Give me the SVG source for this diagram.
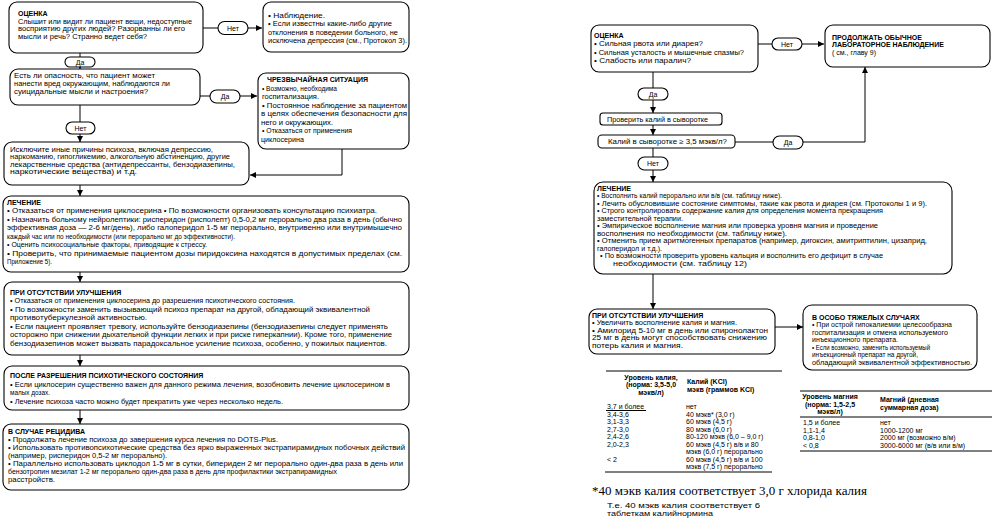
<svg xmlns="http://www.w3.org/2000/svg" width="997" height="520" viewBox="0 0 997 520">
<defs>
<marker id="ah" markerUnits="userSpaceOnUse" markerWidth="6" markerHeight="6" refX="6" refY="3" orient="auto"><path d="M0,0 L6,3 L0,6 z" fill="#000"/></marker>
<style>
.bx{fill:#fff;stroke:#000;stroke-width:1.1}
.pl{fill:#fff;stroke:#000;stroke-width:1.1}
.ln{fill:none;stroke:#000;stroke-width:1}
text{font-family:"Liberation Sans",Arial,sans-serif;font-size:7px;fill:#000}
.b{font-weight:bold}
.c{text-anchor:middle}
.fn{font-family:"Liberation Serif","Times New Roman",serif;font-size:11.5px}
.tl{stroke:#000;stroke-width:1}
</style>
</defs>
<rect width="997" height="520" fill="#fff"/>

<g id="connectors">
<line class="ln" x1="203" y1="28" x2="218" y2="28"/>
<line class="ln" x1="248" y1="28" x2="262" y2="28" marker-end="url(#ah)"/>
<line class="ln" x1="80" y1="53" x2="80" y2="57"/>
<line class="ln" x1="80" y1="67" x2="80" y2="69" marker-end="url(#ah)"/>
<line class="ln" x1="200" y1="96" x2="210" y2="96"/>
<line class="ln" x1="240" y1="96" x2="257" y2="96" marker-end="url(#ah)"/>
<line class="ln" x1="80" y1="105" x2="80" y2="122"/>
<line class="ln" x1="80" y1="134" x2="80" y2="142" marker-end="url(#ah)"/>
<polyline class="ln" points="342,149 342,175 250,175" marker-end="url(#ah)"/>
<line class="ln" x1="80" y1="185" x2="80" y2="196" marker-end="url(#ah)"/>
<line class="ln" x1="80" y1="272" x2="80" y2="282" marker-end="url(#ah)"/>
<line class="ln" x1="80" y1="355" x2="80" y2="366" marker-end="url(#ah)"/>
<line class="ln" x1="80" y1="410" x2="80" y2="424" marker-end="url(#ah)"/>

<line class="ln" x1="758" y1="44" x2="772" y2="44"/>
<line class="ln" x1="802" y1="44" x2="824" y2="44" marker-end="url(#ah)"/>
<line class="ln" x1="653" y1="72" x2="653" y2="88"/>
<line class="ln" x1="653" y1="100" x2="653" y2="113" marker-end="url(#ah)"/>
<line class="ln" x1="653" y1="125" x2="653" y2="135" marker-end="url(#ah)"/>
<line class="ln" x1="735" y1="142" x2="773" y2="142"/>
<polyline class="ln" points="803,142 865,142 865,67" marker-end="url(#ah)"/>
<line class="ln" x1="653" y1="148" x2="653" y2="157"/>
<line class="ln" x1="653" y1="170" x2="653" y2="182" marker-end="url(#ah)"/>
<line class="ln" x1="653" y1="274" x2="653" y2="309" marker-end="url(#ah)"/>
<line class="ln" x1="775" y1="327" x2="803" y2="327" marker-end="url(#ah)"/>
</g>

<g id="n-assess1">
<rect class="bx" x="9" y="2" width="194" height="51" rx="8"/>
<text class="b" x="18" y="15.5">ОЦЕНКА</text>
<text x="18" y="23.5" textLength="174" lengthAdjust="spacingAndGlyphs">Слышит или видит ли пациент вещи, недоступные</text>
<text x="18" y="31" textLength="167" lengthAdjust="spacingAndGlyphs">восприятию других людей? Разорванны ли его</text>
<text x="18" y="38.5" textLength="129" lengthAdjust="spacingAndGlyphs">мысли и речь? Странно ведет себя?</text>
</g>
<g id="p-net1"><rect class="pl" x="218" y="21.5" width="30" height="13" rx="6.5"/><text class="c" x="233" y="30.5">Нет</text></g>
<g id="n-observe">
<rect class="bx" x="263" y="2" width="146" height="50" rx="8"/>
<text x="268" y="17.5" textLength="57" lengthAdjust="spacingAndGlyphs">• Наблюдение.</text>
<text x="268" y="25.5" textLength="124" lengthAdjust="spacingAndGlyphs">• Если известны какие-либо другие</text>
<text x="268" y="34.5" textLength="130" lengthAdjust="spacingAndGlyphs">отклонения в поведении больного, не</text>
<text x="268" y="42.5" textLength="139" lengthAdjust="spacingAndGlyphs">исключена депрессия (см., Протокол 3).</text>
</g>
<g id="p-da1"><rect class="pl" x="65" y="57" width="30" height="10" rx="5"/><text class="c" x="80" y="64.5">Да</text></g>
<g id="n-danger">
<rect class="bx" x="10" y="69" width="190" height="36" rx="8"/>
<text x="14" y="77.5" textLength="141" lengthAdjust="spacingAndGlyphs">Есть ли опасность, что пациент может</text>
<text x="14" y="85.5" textLength="156" lengthAdjust="spacingAndGlyphs">нанести вред окружающим, наблюдаются ли</text>
<text x="14" y="93.5" textLength="134" lengthAdjust="spacingAndGlyphs">суицидальные мысли и настроения?</text>
</g>
<g id="p-da2"><rect class="pl" x="210" y="90" width="30" height="13" rx="6.5"/><text class="c" x="225" y="99">Да</text></g>
<g id="n-emergency">
<rect class="bx" x="258" y="73" width="151" height="76" rx="8"/>
<text class="b" x="267" y="81.5">ЧРЕЗВЫЧАЙНАЯ СИТУАЦИЯ</text>
<text x="262" y="90.5" textLength="75" lengthAdjust="spacingAndGlyphs">• Возможно, необходима</text>
<text x="262" y="99" textLength="57" lengthAdjust="spacingAndGlyphs">госпитализация.</text>
<text x="262" y="107.5" textLength="145" lengthAdjust="spacingAndGlyphs">• Постоянное наблюдение за пациентом</text>
<text x="261" y="116" textLength="146" lengthAdjust="spacingAndGlyphs">в целях обеспечения безопасности для</text>
<text x="261" y="124.5" textLength="72" lengthAdjust="spacingAndGlyphs">него и окружающих.</text>
<text x="262" y="133" textLength="90" lengthAdjust="spacingAndGlyphs">• Отказаться от применения</text>
<text x="261" y="141.5" textLength="43" lengthAdjust="spacingAndGlyphs">циклосерина</text>
</g>
<g id="p-net2"><rect class="pl" x="66" y="122" width="29" height="12" rx="6"/><text class="c" x="80.5" y="130.5">Нет</text></g>
<g id="n-exclude">
<rect class="bx" x="4" y="142" width="245" height="43" rx="8"/>
<text x="10" y="151.5" textLength="203" lengthAdjust="spacingAndGlyphs">Исключите иные причины психоза, включая депрессию,</text>
<text x="10" y="159" textLength="220" lengthAdjust="spacingAndGlyphs">наркоманию, гипогликемию, алкогольную абстиненцию, другие</text>
<text x="10" y="166.5" textLength="225" lengthAdjust="spacingAndGlyphs">лекарственные средства (антидепрессанты, бензодиазепины,</text>
<text x="10" y="174" textLength="127" lengthAdjust="spacingAndGlyphs">наркотические вещества) и т.д.</text>
</g>
<g id="n-treat1">
<rect class="bx" x="3" y="196" width="406" height="76" rx="8"/>
<text class="b" x="7" y="204.5">ЛЕЧЕНИЕ</text>
<text x="7" y="213" textLength="370" lengthAdjust="spacingAndGlyphs">• Отказаться от применения циклосерина • По возможности организовать консультацию психиатра.</text>
<text x="7" y="221.5" textLength="395" lengthAdjust="spacingAndGlyphs">• Назначить больному нейролептики: рисперидон (рисполепт) 0,5-0,2 мг перорально два раза в день (обычно</text>
<text x="7" y="230" textLength="395" lengthAdjust="spacingAndGlyphs">эффективная доза — 2-6 мг/день), либо галоперидол 1-5 мг перорально, внутривенно или внутримышечно</text>
<text x="7" y="238.5" textLength="228" lengthAdjust="spacingAndGlyphs">каждый час или по необходимости (или перорально мг до эффективности).</text>
<text x="7" y="247" textLength="200" lengthAdjust="spacingAndGlyphs">• Оценить психосоциальные факторы, приводящие к стрессу.</text>
<text x="7" y="255.5" textLength="395" lengthAdjust="spacingAndGlyphs">• Проверить, что принимаемые пациентом дозы пиридоксина находятся в допустимых пределах (см.</text>
<text x="7" y="264" textLength="45" lengthAdjust="spacingAndGlyphs">Приложение 5).</text>
</g>
<g id="n-noimprove1">
<rect class="bx" x="4" y="282" width="405" height="73" rx="8"/>
<text class="b" x="10" y="294.5">ПРИ ОТСУТСТВИИ УЛУЧШЕНИЯ</text>
<text x="10" y="303" textLength="285" lengthAdjust="spacingAndGlyphs">• Отказаться от применения циклосерина до разрешения психотического состояния.</text>
<text x="10" y="311.5" textLength="360" lengthAdjust="spacingAndGlyphs">• По возможности заменить вызывающий психоз препарат на другой, обладающий эквивалентной</text>
<text x="10" y="320" textLength="137" lengthAdjust="spacingAndGlyphs">противотуберкулезной активностью.</text>
<text x="10" y="328.5" textLength="378" lengthAdjust="spacingAndGlyphs">• Если пациент проявляет тревогу, используйте бензодиазепины (бензодиазепины следует применять</text>
<text x="10" y="337" textLength="382" lengthAdjust="spacingAndGlyphs">осторожно при снижении дыхательной функции легких и при риске гиперкапнии). Кроме того, применение</text>
<text x="10" y="345.5" textLength="377" lengthAdjust="spacingAndGlyphs">бензодиазепинов может вызвать парадоксальное усиление психоза, особенно, у пожилых пациентов.</text>
</g>
<g id="n-after">
<rect class="bx" x="4" y="366" width="405" height="44" rx="8"/>
<text class="b" x="10" y="377.5">ПОСЛЕ РАЗРЕШЕНИЯ ПСИХОТИЧЕСКОГО СОСТОЯНИЯ</text>
<text x="10" y="386.5" textLength="380" lengthAdjust="spacingAndGlyphs">• Если циклосерин существенно важен для данного режима лечения, возобновить лечение циклосерином в</text>
<text x="10" y="395" textLength="40" lengthAdjust="spacingAndGlyphs">малых дозах.</text>
<text x="10" y="403.5" textLength="273" lengthAdjust="spacingAndGlyphs">• Лечение психоза часто можно будет прекратить уже через несколько недель.</text>
</g>
<g id="n-relapse">
<rect class="bx" x="3" y="424" width="406" height="66" rx="8"/>
<text class="b" x="8" y="433.5">В СЛУЧАЕ РЕЦИДИВА</text>
<text x="8" y="441.5" textLength="270" lengthAdjust="spacingAndGlyphs">• Продолжать лечение психоза до завершения курса лечения по DOTS-Plus.</text>
<text x="8" y="449.5" textLength="397" lengthAdjust="spacingAndGlyphs">• Использовать противопсихотические средства без ярко выраженных экстрапирамидных побочных действий</text>
<text x="8" y="457.5" textLength="159" lengthAdjust="spacingAndGlyphs">(например, рисперидон 0,5-2 мг перорально).</text>
<text x="8" y="465.5" textLength="395" lengthAdjust="spacingAndGlyphs">• Параллельно использовать циклодол 1-5 мг в сутки, бипериден 2 мг перорально один-два раза в день или</text>
<text x="8" y="473.5" textLength="329" lengthAdjust="spacingAndGlyphs">бензотропин мезилат 1-2 мг перорально один-два раза в день для профилактики экстрапирамидных</text>
<text x="8" y="481.5" textLength="47" lengthAdjust="spacingAndGlyphs">расстройств.</text>
</g>

<g id="n-assess2">
<rect class="bx" x="591" y="25" width="167" height="47" rx="8"/>
<text class="b" x="594" y="37.5">ОЦЕНКА</text>
<text x="594" y="46" textLength="109" lengthAdjust="spacingAndGlyphs">• Сильная рвота или диарея?</text>
<text x="594" y="54.5" textLength="150" lengthAdjust="spacingAndGlyphs">• Сильная усталость и мышечные спазмы?</text>
<text x="594" y="63" textLength="97" lengthAdjust="spacingAndGlyphs">• Слабость или паралич?</text>
</g>
<g id="p-net3"><rect class="pl" x="772" y="38" width="30" height="12" rx="6"/><text class="c" x="787" y="46.5">Нет</text></g>
<g id="n-continue">
<rect class="bx" x="825" y="25" width="165" height="42" rx="8"/>
<text class="b" x="832" y="39.5">ПРОДОЛЖАТЬ ОБЫЧНОЕ</text>
<text class="b" x="832" y="47">ЛАБОРАТОРНОЕ НАБЛЮДЕНИЕ</text>
<text x="832" y="54.5">( см., главу 9)</text>
</g>
<g id="p-da3"><rect class="pl" x="638" y="88" width="30" height="12" rx="6"/><text class="c" x="653" y="96.5">Да</text></g>
<g id="n-check">
<rect class="bx" x="600" y="113" width="122" height="12" rx="3"/>
<text x="607" y="121.5" textLength="101" lengthAdjust="spacingAndGlyphs">Проверить калий в сыворотке</text>
</g>
<g id="n-k35">
<rect class="bx" x="598" y="135" width="137" height="13" rx="4"/>
<text x="608" y="144" textLength="119" lengthAdjust="spacingAndGlyphs">Калий в сыворотке ≥ 3,5 мэкв/л?</text>
</g>
<g id="p-da4"><rect class="pl" x="773" y="136" width="30" height="13" rx="6.5"/><text class="c" x="788" y="145">Да</text></g>
<g id="p-net4"><rect class="pl" x="638" y="157" width="30" height="13" rx="6.5"/><text class="c" x="653" y="166">Нет</text></g>
<g id="n-treat2">
<rect class="bx" x="594" y="182" width="358" height="92" rx="9"/>
<text class="b" x="597" y="190.5">ЛЕЧЕНИЕ</text>
<text x="597" y="198" textLength="185" lengthAdjust="spacingAndGlyphs">• Восполнить калий перорально или в/в (см. таблицу ниже).</text>
<text x="597" y="205.5" textLength="330" lengthAdjust="spacingAndGlyphs">• Лечить обусловившие состояние симптомы, такие как рвота и диарея (см. Протоколы 1 и 9).</text>
<text x="597" y="213" textLength="286" lengthAdjust="spacingAndGlyphs">• Строго контролировать содержание калия для определения момента прекращения</text>
<text x="597" y="220.5" textLength="86" lengthAdjust="spacingAndGlyphs">заместительной терапии.</text>
<text x="597" y="228" textLength="281" lengthAdjust="spacingAndGlyphs">• Эмпирическое восполнение магния или проверка уровня магния и проведение</text>
<text x="597" y="235.5" textLength="190" lengthAdjust="spacingAndGlyphs">восполнения по необходимости (см. таблицу ниже).</text>
<text x="597" y="243" textLength="330" lengthAdjust="spacingAndGlyphs">• Отменить прием аритмогенных препаратов (например, дигоксин, амитриптилин, цизаприд,</text>
<text x="597" y="250.5" textLength="65" lengthAdjust="spacingAndGlyphs">галоперидол и т.д.).</text>
<text x="600" y="258" textLength="283" lengthAdjust="spacingAndGlyphs">• По возможности проверить уровень кальция и восполнить его дефицит в случае</text>
<text x="613" y="265.5" textLength="134" lengthAdjust="spacingAndGlyphs">необходимости (см. таблицу 12)</text>
</g>
<g id="n-noimprove2">
<rect class="bx" x="589" y="309" width="186" height="45" rx="8"/>
<text class="b" x="592" y="317.5">ПРИ ОТСУТСТВИИ УЛУЧШЕНИЯ</text>
<text x="592" y="325" textLength="145" lengthAdjust="spacingAndGlyphs">• Увеличить восполнение калия и магния.</text>
<text x="592" y="332.5" textLength="176" lengthAdjust="spacingAndGlyphs">• Амилорид 5-10 мг в день или спиронолактон</text>
<text x="592" y="340" textLength="175" lengthAdjust="spacingAndGlyphs">25 мг в день могут способствовать снижению</text>
<text x="592" y="347.5" textLength="91" lengthAdjust="spacingAndGlyphs">потерь калия и магния.</text>
</g>
<g id="n-severe">
<rect class="bx" x="803" y="305" width="174" height="65" rx="9"/>
<text class="b" x="812" y="319.5">В ОСОБО ТЯЖЕЛЫХ СЛУЧАЯХ</text>
<text x="812" y="327" textLength="140" lengthAdjust="spacingAndGlyphs">• При острой гипокалиемии целесообразна</text>
<text x="812" y="334.5" textLength="136" lengthAdjust="spacingAndGlyphs">госпитализация и отмена используемого</text>
<text x="812" y="342" textLength="86" lengthAdjust="spacingAndGlyphs">инъекционного препарата.</text>
<text x="812" y="349.5" textLength="118" lengthAdjust="spacingAndGlyphs">• Если возможно, заменить используемый</text>
<text x="812" y="357" textLength="106" lengthAdjust="spacingAndGlyphs">инъекционный препарат на другой,</text>
<text x="812" y="364.5" textLength="160" lengthAdjust="spacingAndGlyphs">обладающий эквивалентной эффективностью.</text>
</g>

<g id="table-k">
<line class="tl" x1="606" y1="371" x2="782" y2="371"/>
<text class="b c" x="651" y="379.5">Уровень калия,</text>
<text class="b c" x="651" y="387">(норма: 3,5-5,0</text>
<text class="b c" x="651" y="394.5">мэкв/л)</text>
<text class="b" x="687" y="383.5">Калий  (KCl)</text>
<text class="b" x="687" y="391.5">мэкв (граммов KCl)</text>
<line class="tl" x1="606" y1="410.5" x2="646" y2="410.5"/>
<text x="607" y="409">3,7 и более</text><text x="686" y="409">нет</text>
<text x="607" y="416.5">3,4-3,6</text><text x="686" y="416.5">40 мэкв* (3,0 г)</text>
<text x="607" y="424">3,1-3,3</text><text x="686" y="424">60 мэкв  (4,5 г)</text>
<text x="607" y="431.5">2,7-3,0</text><text x="686" y="431.5">80 мэкв  (6,0 г)</text>
<text x="607" y="439">2,4-2,6</text><text x="686" y="439">80-120 мэкв (6,0 – 9,0 г)</text>
<text x="607" y="446.5">2,0-2,3</text><text x="686" y="446.5">60 мэкв  (4,5 г) в/в и 80</text>
<text x="686" y="454">мэкв (6,0 г) перорально</text>
<text x="607" y="461.5">&lt; 2</text><text x="686" y="461.5">60 мэкв  (4,5 г) в/в и 100</text>
<text x="686" y="469">мэкв (7,5 г) перорально</text>
<line class="tl" x1="605" y1="472" x2="772" y2="472"/>
</g>

<g id="table-mg">
<line class="tl" x1="800" y1="391" x2="992" y2="391"/>
<text class="b c" x="830" y="399">Уровень магния</text>
<text class="b c" x="830" y="406.5">(норма: 1,5-2,5</text>
<text class="b c" x="830" y="414">мэкв/л)</text>
<text class="b" x="880" y="402">Магний (дневная</text>
<text class="b" x="880" y="410">суммарная доза)</text>
<line class="tl" x1="800" y1="417" x2="992" y2="417"/>
<text x="803" y="425">1,5 и более</text><text x="880" y="425">нет</text>
<text x="803" y="432.5">1,1-1,4</text><text x="880" y="432.5">1000-1200 мг</text>
<text x="803" y="440">0,8-1,0</text><text x="880" y="440">2000 мг  (возможно в/м)</text>
<text x="803" y="447.5">&lt; 0,8</text><text x="880" y="447.5">3000-6000 мг (в/в или в/м)</text>
<line class="tl" x1="800" y1="451" x2="992" y2="451"/>
</g>

<g id="footnotes">
<text class="fn" x="592" y="494.5" textLength="275" lengthAdjust="spacingAndGlyphs">*40 мэкв калия соответствует 3,0 г хлорида калия</text>
<text x="607" y="507.5" textLength="153" lengthAdjust="spacingAndGlyphs">Т.е. 40 мэкв калия соответствует 6</text>
<text x="607" y="516" textLength="106" lengthAdjust="spacingAndGlyphs">таблеткам калийнормина</text>
</g>
</svg>
